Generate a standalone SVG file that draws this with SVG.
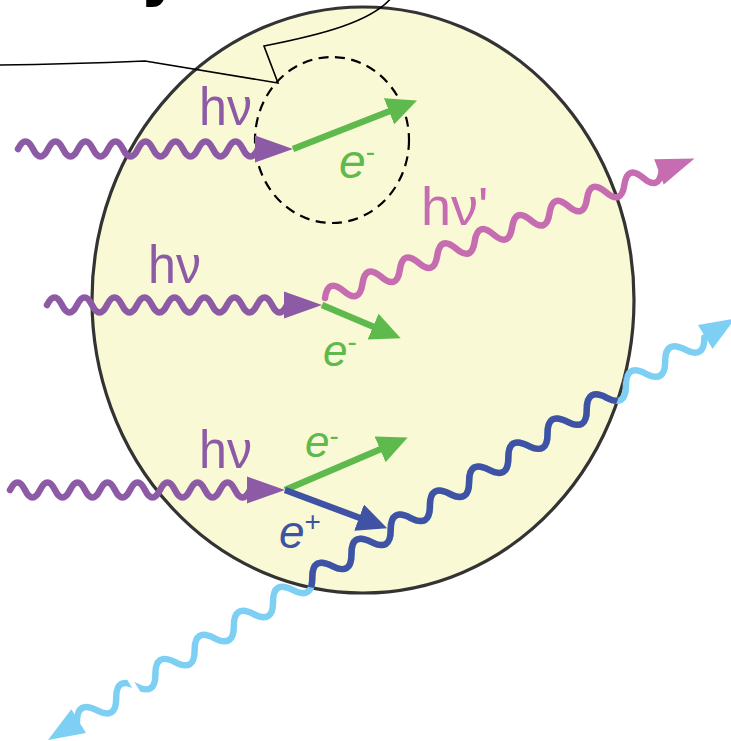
<svg xmlns="http://www.w3.org/2000/svg" width="731" height="741" viewBox="0 0 731 741">
  <style>
    .ball { fill: #faf9d6; stroke: #333333; stroke-width: 3.2; }
    .zone { fill: none; stroke: #000000; stroke-width: 2.2; stroke-dasharray: 10 6.5; }
    .leader { fill: none; stroke: #000000; stroke-width: 1.6; stroke-linejoin: miter; }
    .wave { fill: none; stroke-width: 6.5; stroke-linecap: round; }
    .purple { stroke: #8d5ba6; }
    .pink { stroke: #c66cb0; }
    .sky { stroke: #7dd0f4; }
    .navy { stroke: #3f52a4; }
    .track { fill: none; stroke-width: 6.5; }
    .lbl { font-family: "Liberation Sans", Arial, sans-serif; }
    .e { font-style: italic; }
    .sup { font-style: normal; font-size: 28px; }
  </style>
  <defs>
    <marker id="headGreen" markerUnits="userSpaceOnUse" markerWidth="31" markerHeight="28" refX="1" refY="14" orient="auto">
      <path d="M0,0 L30,14 L0,28 z" fill="#5fba4d"/>
    </marker>
    <marker id="headNavy" markerUnits="userSpaceOnUse" markerWidth="31" markerHeight="28" refX="1" refY="14" orient="auto">
      <path d="M0,0 L30,14 L0,28 z" fill="#3f52a4"/>
    </marker>
    <!-- incoming photon: 16 half-waves then an arrowhead -->
    <g id="photonIn">
      <path class="wave purple" d="M0,0 q7.5,-15 15,0 t15,0 t15,0 t15,0 t15,0 t15,0 t15,0 t15,0 t15,0 t15,0 t15,0 t15,0 t15,0 t15,0 t15,0 t15,0"/>
      <polygon points="237,-13.5 275,0 237,13.5" fill="#8d5ba6"/>
    </g>
    <!-- annihilation photon running along its own axis: 32 half-waves -->
    <path id="gammaWave" d="M34,0 q11.5,-19 23,0 t23,0 t23,0 t23,0 t23,0 t23,0 t23,0 t23,0 t23,0 t23,0 t23,0 t23,0 t23,0 t23,0 t23,0 t23,0 t23,0 t23,0 t23,0 t23,0 t23,0 t23,0 t23,0 t23,0 t23,0 t23,0 t23,0 t23,0 t23,0 t23,0 t23,0 t23,0"/>
    <clipPath id="ballClip">
      <ellipse cx="363" cy="300" rx="271" ry="293"/>
    </clipPath>
    <mask id="gammaBreak" maskUnits="userSpaceOnUse" x="-20" y="-40" width="860" height="80">
      <rect x="-20" y="-40" width="860" height="80" fill="#ffffff"/>
      <rect x="99" y="-20" width="5" height="40" fill="#000000"/>
    </mask>
  </defs>

  <!-- title fragment running off the top edge -->
  <text x="140" y="-6" font-family="DejaVu Sans, sans-serif" font-weight="bold" font-size="62" fill="#000000">y</text>

  <g id="ball">
    <ellipse class="ball" cx="363" cy="300" rx="271" ry="293"/>
  </g>

  <g id="zone">
    <ellipse class="zone" cx="332" cy="140" rx="77" ry="83"/>
  </g>

  <g id="connectors">
    <!-- leader line pointing into the dashed zone -->
    <path class="leader" d="M0,65 Q70,64 145,61 L278,83 L264,46 C320,35 372,22 392,-3"/>

    <!-- photoelectric absorption -->
    <use href="#photonIn" transform="translate(18,149)"/>
    <line class="track" x1="293" y1="149" x2="390" y2="111" stroke="#5fba4d" marker-end="url(#headGreen)"/>

    <!-- Compton scattering -->
    <use href="#photonIn" transform="translate(47,305)"/>
    <g transform="translate(325,298) rotate(-20.7)">
      <path class="wave pink" d="M0,0 q10,-18 20,0 t20,0 t20,0 t20,0 t20,0 t20,0 t20,0 t20,0 t20,0 t20,0 t20,0 t20,0 t20,0 t20,0 t20,0 t20,0 t20,0 t20,0"/>
      <polygon points="357,-13.5 395,0 357,13.5" fill="#c66cb0"/>
    </g>
    <line class="track" x1="322" y1="305" x2="374" y2="327" stroke="#5fba4d" marker-end="url(#headGreen)"/>

    <!-- pair production -->
    <use href="#photonIn" transform="translate(10,490)"/>
    <g transform="translate(48,740) rotate(-31.52)">
      <use href="#gammaWave" class="wave sky" mask="url(#gammaBreak)"/>
      <polygon points="0,0 36,-14 36,14" fill="#7dd0f4"/>
      <polygon points="771,-14 806,0 771,14" fill="#7dd0f4"/>
    </g>
    <g clip-path="url(#ballClip)">
      <g transform="translate(48,740) rotate(-31.52)">
        <use href="#gammaWave" class="wave navy"/>
      </g>
    </g>
    <line class="track" x1="285" y1="490" x2="381" y2="449" stroke="#5fba4d" marker-end="url(#headGreen)"/>
    <line class="track" x1="285" y1="490" x2="360" y2="518" stroke="#3f52a4" marker-end="url(#headNavy)"/>
  </g>

  <g id="labels" class="lbl">
    <text x="199" y="125" font-size="54" fill="#8d5ba6" textLength="53" lengthAdjust="spacingAndGlyphs">hν</text>
    <text x="148" y="283" font-size="54" fill="#8d5ba6" textLength="53" lengthAdjust="spacingAndGlyphs">hν</text>
    <text x="199" y="468" font-size="54" fill="#8d5ba6" textLength="53" lengthAdjust="spacingAndGlyphs">hν</text>
    <text x="421" y="225" font-size="54" fill="#c66cb0">hν'</text>

    <text class="e" x="339" y="178" font-size="48" fill="#5fba4d">e<tspan class="sup" dy="-17">-</tspan></text>
    <text class="e" x="323" y="366" font-size="44" fill="#5fba4d">e<tspan class="sup" dy="-15">-</tspan></text>
    <text class="e" x="305" y="457" font-size="44" fill="#5fba4d">e<tspan class="sup" dy="-12">-</tspan></text>
    <text class="e" x="279" y="548" font-size="46" fill="#3f52a4">e<tspan class="sup" dy="-17">+</tspan></text>
  </g>
</svg>
